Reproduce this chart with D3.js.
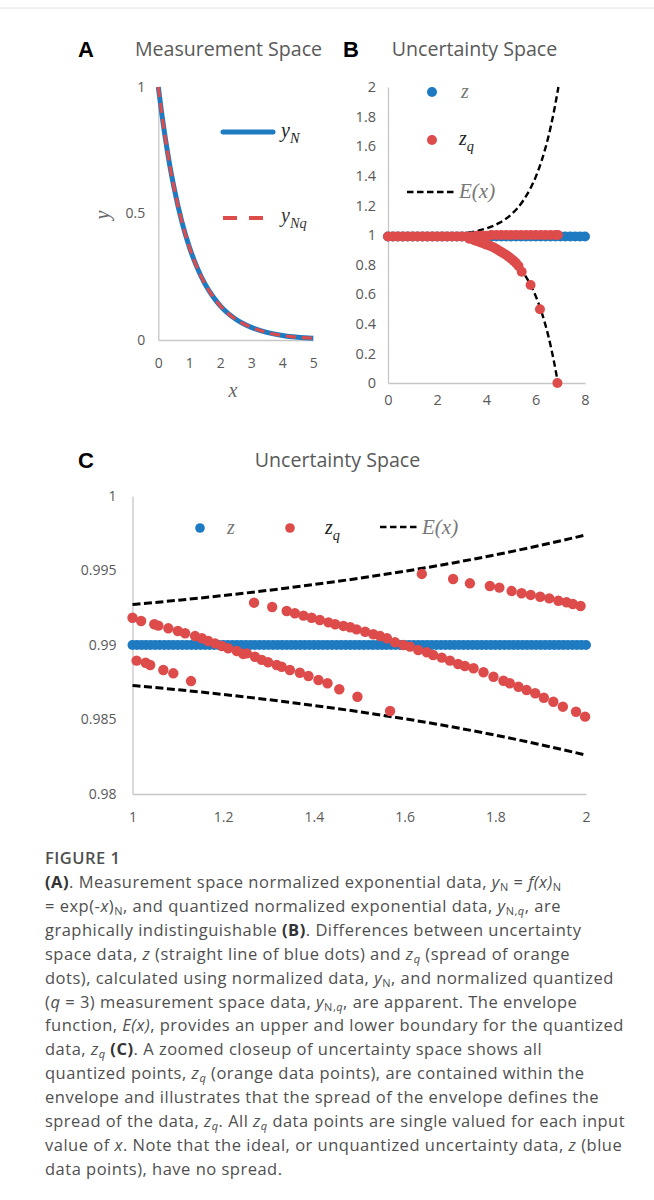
<!DOCTYPE html>
<html>
<head>
<meta charset="utf-8">
<script src="https://cdn.jsdelivr.net/npm/d3@7"></script>
<style>
  body { margin: 0; background: #fff; }
  svg { display: block; }
  .tick text { font-family: "Open Sans", sans-serif; fill: #595959; }
  .cap { font-family: "Open Sans", sans-serif; font-size: 16.5px; letter-spacing: 0.5px; fill: #4f4f4f; }
</style>
</head>
<body>
<div id="chart"></div>
<script>
// ---- Panel A: measurement space (y_N and y_Nq overlap) ----
const aX = [0, 0.1, 0.2, 0.3, 0.4, 0.5, 0.75, 1, 1.25, 1.5, 1.75, 2, 2.25, 2.5, 2.75, 3, 3.5, 4, 4.5, 5];
const aY = [1, 0.905, 0.819, 0.741, 0.670, 0.607, 0.472, 0.368, 0.287, 0.223, 0.174, 0.135, 0.105, 0.082, 0.064, 0.050, 0.030, 0.018, 0.011, 0.007];
const aXTicks = [0, 1, 2, 3, 4, 5];
const aYTicks = [0, 0.5, 1];

// ---- Panel B: uncertainty space, full range ----
const zLevel = 0.99;
const bZX = [0, 0.2, 0.4, 0.6, 0.8, 1, 1.2, 1.4, 1.6, 1.8, 2, 2.2, 2.4, 2.6, 2.8, 3, 3.2, 3.4, 3.6, 3.8, 4,
  4.2, 4.4, 4.6, 4.8, 5, 5.2, 5.4, 5.6, 5.8, 6, 6.2, 6.4, 6.6, 6.8, 7, 7.2, 7.4, 7.6, 7.8, 8];
const bZqX = [0, 0.2, 0.4, 0.6, 0.8, 1, 1.2, 1.4, 1.6, 1.8, 2, 2.2, 2.4, 2.6, 2.8, 3, 3.2, 3.4, 3.6, 3.8, 4,
  4.2, 4.4, 4.6, 4.8, 5, 5.2, 5.4, 5.6, 5.8, 6, 6.2, 6.4, 6.6, 6.8, 6.9,
  3.3, 3.5, 3.6, 3.7, 3.8, 3.9, 4, 4.1, 4.2, 4.3, 4.4, 4.5, 4.6, 4.7, 4.8, 4.9, 5, 5.1, 5.2, 5.3,
  5.43, 5.79, 6.17, 6.88];
const bZqY = [0.99, 0.99, 0.99, 0.99, 0.99, 0.99, 0.99, 0.99, 0.99, 0.99, 0.99, 0.99, 0.99, 0.99, 0.99, 0.99, 0.99, 0.99, 0.995, 0.995, 0.995,
  1.0, 1.0, 1.0, 1.0, 1.0, 1.0, 1.0, 1.0, 1.0, 1.0, 1.0, 1.0, 1.0, 1.0, 1.0,
  0.975, 0.965, 0.96, 0.955, 0.948, 0.942, 0.935, 0.93, 0.922, 0.915, 0.905, 0.895, 0.885, 0.875, 0.865, 0.853, 0.84, 0.826, 0.81, 0.79,
  0.752, 0.662, 0.498, 0.0];
const bEX = [0, 1, 2, 3, 3.5, 4, 4.5, 5, 5.5, 6, 6.25, 6.5, 6.75, 6.92];
const bEUp = [0.991, 0.9927, 0.9974, 1.010, 1.023, 1.045, 1.080, 1.138, 1.235, 1.393, 1.508, 1.655, 1.844, 2.0];
const bELowX = [0, 1, 2, 3, 3.5, 4, 4.5, 5, 5.5, 6, 6.25, 6.5, 6.75, 6.9];
const bELow = [0.989, 0.9873, 0.9826, 0.970, 0.957, 0.935, 0.900, 0.842, 0.745, 0.587, 0.472, 0.325, 0.136, 0.0];
const bXTicks = [0, 2, 4, 6, 8];
const bYTicks = [0, 0.2, 0.4, 0.6, 0.8, 1, 1.2, 1.4, 1.6, 1.8, 2];

// ---- Panel C: zoomed uncertainty space, x from 1 to 2 ----
const cZX = [1, 1.01, 1.02, 1.03, 1.04, 1.05, 1.06, 1.07, 1.08, 1.09, 1.1, 1.11, 1.12, 1.13, 1.14, 1.15, 1.16, 1.17, 1.18, 1.19,
  1.2, 1.21, 1.22, 1.23, 1.24, 1.25, 1.26, 1.27, 1.28, 1.29, 1.3, 1.31, 1.32, 1.33, 1.34, 1.35, 1.36, 1.37, 1.38, 1.39,
  1.4, 1.41, 1.42, 1.43, 1.44, 1.45, 1.46, 1.47, 1.48, 1.49, 1.5, 1.51, 1.52, 1.53, 1.54, 1.55, 1.56, 1.57, 1.58, 1.59,
  1.6, 1.61, 1.62, 1.63, 1.64, 1.65, 1.66, 1.67, 1.68, 1.69, 1.7, 1.71, 1.72, 1.73, 1.74, 1.75, 1.76, 1.77, 1.78, 1.79,
  1.8, 1.81, 1.82, 1.83, 1.84, 1.85, 1.86, 1.87, 1.88, 1.89, 1.9, 1.91, 1.92, 1.93, 1.94, 1.95, 1.96, 1.97, 1.98, 1.99, 2];
const cZqX = [1.0, 1.019, 1.048, 1.057, 1.079, 1.1, 1.116, 1.138, 1.153, 1.167, 1.182, 1.197, 1.211, 1.23, 1.244,
  1.252, 1.27, 1.285, 1.299, 1.318, 1.329, 1.347, 1.369, 1.388, 1.41, 1.43, 1.456, 1.496, 1.568,
  1.009, 1.029, 1.039, 1.068, 1.09, 1.129,
  1.268, 1.308, 1.34, 1.358, 1.377, 1.395, 1.413, 1.432, 1.447, 1.465, 1.48, 1.494,
  1.513, 1.531, 1.546, 1.561, 1.579, 1.597, 1.612, 1.63, 1.649, 1.663, 1.682, 1.7, 1.718, 1.733,
  1.752, 1.774, 1.796, 1.818, 1.832, 1.851, 1.869, 1.888, 1.907, 1.928, 1.949, 1.978, 1.998,
  1.638, 1.707, 1.744, 1.788, 1.809, 1.836, 1.858, 1.878, 1.899, 1.919, 1.939, 1.957, 1.971, 1.988];
const cZqY = [0.99183, 0.99161, 0.99139, 0.9913, 0.99112, 0.99094, 0.99079, 0.9906, 0.99045, 0.99027, 0.99011, 0.98993, 0.98978, 0.9896, 0.9894,
  0.98944, 0.98921, 0.989, 0.98884, 0.98866, 0.98854, 0.98832, 0.98814, 0.98792, 0.98765, 0.98743, 0.98703, 0.98653, 0.98557,
  0.98895, 0.98881, 0.98866, 0.98832, 0.9881, 0.98758,
  0.99284, 0.99255, 0.99228, 0.99213, 0.99197, 0.99183, 0.99168, 0.99152, 0.99139, 0.99128, 0.99119, 0.99105,
  0.99089, 0.99072, 0.9906, 0.99045, 0.99018, 0.99, 0.98989, 0.98966, 0.98951, 0.98933, 0.98915, 0.98895, 0.98872, 0.98859,
  0.98844, 0.98817, 0.98787, 0.9876, 0.98743, 0.9872, 0.98698, 0.98676, 0.98646, 0.98619, 0.98586, 0.98552, 0.98519,
  0.99477, 0.99443, 0.99414, 0.99396, 0.99385, 0.99362, 0.99347, 0.99336, 0.99324, 0.99313, 0.99297, 0.99287, 0.99275, 0.99262];
const cEX = [1, 1.1, 1.2, 1.3, 1.4, 1.5, 1.6, 1.7, 1.8, 1.9, 2];
const cEUp = [0.99272, 0.993, 0.99332, 0.99367, 0.99406, 0.99448, 0.99495, 0.99547, 0.99605, 0.99669, 0.99739];
const cELow = [0.98728, 0.987, 0.98668, 0.98633, 0.98594, 0.98552, 0.98505, 0.98453, 0.98395, 0.98331, 0.98261];
const cXTicks = [1, 1.2, 1.4, 1.6, 1.8, 2];
const cYTicks = [0.98, 0.985, 0.99, 0.995, 1];

const BLUE = "#1f7bc1", RED = "#dd4b4b", AXIS = "#c6c6c6", GRAY = "#595959";
const SERIF = "'Liberation Serif', 'DejaVu Serif', serif";

const svg = d3.select("#chart").append("svg").attr("width", 654).attr("height", 1200);

svg.append("line").attr("x1", 0).attr("x2", 654).attr("y1", 8).attr("y2", 8)
  .attr("stroke", "#e2e2e2").attr("stroke-width", 1);

// axis helper
function axes(x, y, xt, yt, padX, padY, size) {
  const fmt = d => String(+d.toFixed(3));
  const gx = svg.append("g").attr("transform", `translate(0,${y.range()[0]})`)
    .call(d3.axisBottom(x).tickValues(xt).tickSize(0).tickSizeOuter(0).tickPadding(padX).tickFormat(fmt));
  const gy = svg.append("g").attr("transform", `translate(${x.range()[0]},0)`)
    .call(d3.axisLeft(y).tickValues(yt).tickSize(0).tickSizeOuter(0).tickPadding(padY).tickFormat(fmt));
  [gx, gy].forEach(g => {
    g.select(".domain").attr("stroke", AXIS).attr("stroke-width", 1.3);
    g.selectAll("text").attr("font-size", size);
  });
}

function title(txt, cx, cy, letter, lx) {
  svg.append("text").attr("x", cx).attr("y", cy).attr("text-anchor", "middle")
    .attr("font-family", "'Open Sans', sans-serif").attr("font-size", 19.6).attr("fill", GRAY).text(txt);
  svg.append("text").attr("x", lx).attr("y", cy + 0.5)
    .attr("font-family", "'Liberation Sans', Arial, sans-serif").attr("font-weight", 700)
    .attr("font-size", 22).attr("fill", "#000").text(letter);
}

function legendLabel(x, y, main, sub, color, size) {
  const t = svg.append("text").attr("x", x).attr("y", y).attr("font-family", SERIF)
    .attr("font-style", "italic").attr("font-size", size || 20).attr("fill", color || "#333");
  t.append("tspan").text(main);
  if (sub) t.append("tspan").attr("dy", 6).attr("font-size", (size || 20) * 0.72).text(sub);
  return t;
}

// ================= Panel A =================
const xA = d3.scaleLinear().domain([0, 5]).range([158.3, 313.3]);
const yA = d3.scaleLinear().domain([0, 1]).range([340, 87]);
axes(xA, yA, aXTicks, aYTicks, 18, 13, 14);
title("Measurement Space", 228.5, 56, "A", 78);

const lineA = d3.line().x((d, i) => xA(aX[i])).y(d => yA(d)).curve(d3.curveMonotoneX);
svg.append("path").datum(aY).attr("d", lineA).attr("fill", "none")
  .attr("stroke", BLUE).attr("stroke-width", 5);
svg.append("path").datum(aY).attr("d", lineA).attr("fill", "none")
  .attr("stroke", RED).attr("stroke-width", 3.2).attr("stroke-dasharray", "10,6");

svg.append("line").attr("x1", 223).attr("x2", 273).attr("y1", 132).attr("y2", 132)
  .attr("stroke", BLUE).attr("stroke-width", 5).attr("stroke-linecap", "round");
legendLabel(281, 137, "y", "N", "#222");
svg.append("line").attr("x1", 223).attr("x2", 273).attr("y1", 218).attr("y2", 218)
  .attr("stroke", RED).attr("stroke-width", 4).attr("stroke-dasharray", "14,12");
legendLabel(281, 222, "y", "Nq", "#333");

svg.append("text").attr("transform", "translate(109,215) rotate(-90)").attr("text-anchor", "middle")
  .attr("font-family", SERIF).attr("font-style", "italic").attr("font-size", 20).attr("fill", "#666").text("y");
svg.append("text").attr("x", 233).attr("y", 397).attr("text-anchor", "middle")
  .attr("font-family", SERIF).attr("font-style", "italic").attr("font-size", 20).attr("fill", "#666").text("x");

// ================= Panel B =================
const xB = d3.scaleLinear().domain([0, 8]).range([388, 585]);
const yB = d3.scaleLinear().domain([0, 2]).range([383, 87]);
axes(xB, yB, bXTicks, bYTicks, 12, 12, 14.5);
title("Uncertainty Space", 474.5, 56, "B", 343);

const dashB = "6.5,3.5";
svg.append("path").datum(bEUp).attr("fill", "none").attr("stroke", "#000").attr("stroke-width", 2.4)
  .attr("stroke-dasharray", dashB)
  .attr("d", d3.line().x((d, i) => xB(bEX[i])).y(d => yB(d)).curve(d3.curveMonotoneX));
svg.append("path").datum(bELow).attr("fill", "none").attr("stroke", "#000").attr("stroke-width", 2.4)
  .attr("stroke-dasharray", dashB)
  .attr("d", d3.line().x((d, i) => xB(bELowX[i])).y(d => yB(d)).curve(d3.curveMonotoneX));
svg.append("g").selectAll("circle").data(bZX).join("circle")
  .attr("cx", d => xB(d)).attr("cy", yB(zLevel)).attr("r", 5).attr("fill", BLUE);
svg.append("g").selectAll("circle").data(bZqY).join("circle")
  .attr("cx", (d, i) => xB(bZqX[i])).attr("cy", d => yB(d)).attr("r", 5).attr("fill", RED);

svg.append("circle").attr("cx", 432).attr("cy", 92).attr("r", 5).attr("fill", BLUE);
legendLabel(461, 98, "z", null, "#777");
svg.append("circle").attr("cx", 432).attr("cy", 140).attr("r", 5).attr("fill", RED);
legendLabel(459, 145, "z", "q", "#222");
svg.append("line").attr("x1", 407).attr("x2", 457).attr("y1", 192).attr("y2", 192)
  .attr("stroke", "#000").attr("stroke-width", 2.4).attr("stroke-dasharray", dashB);
legendLabel(459, 198, "E(x)", null, "#777", 21);

// ================= Panel C =================
const xC = d3.scaleLinear().domain([1, 2]).range([132.5, 586]);
const yC = d3.scaleLinear().domain([0.98, 1]).range([794, 496]);
axes(xC, yC, cXTicks, cYTicks, 18, 16, 14);
title("Uncertainty Space", 337.5, 467, "C", 78);

const dashC = "8,3.5";
[cEUp, cELow].forEach(arr => {
  svg.append("path").datum(arr).attr("fill", "none").attr("stroke", "#000").attr("stroke-width", 3)
    .attr("stroke-dasharray", dashC)
    .attr("d", d3.line().x((d, i) => xC(cEX[i])).y(d => yC(d)).curve(d3.curveMonotoneX));
});
svg.append("g").selectAll("circle").data(cZX).join("circle")
  .attr("cx", d => xC(d)).attr("cy", yC(zLevel)).attr("r", 5).attr("fill", BLUE);
svg.append("g").selectAll("circle").data(cZqY).join("circle")
  .attr("cx", (d, i) => xC(cZqX[i])).attr("cy", d => yC(d)).attr("r", 5.2).attr("fill", RED);

svg.append("circle").attr("cx", 200).attr("cy", 528).attr("r", 4.8).attr("fill", BLUE);
legendLabel(227, 534, "z", null, "#777");
svg.append("circle").attr("cx", 290).attr("cy", 528).attr("r", 4.8).attr("fill", RED);
legendLabel(325, 534, "z", "q", "#222");
svg.append("line").attr("x1", 380).attr("x2", 418).attr("y1", 527).attr("y2", 527)
  .attr("stroke", "#000").attr("stroke-width", 2.6).attr("stroke-dasharray", dashB);
legendLabel(422, 534, "E(x)", null, "#777", 21);

// ================= Caption =================
svg.append("text").attr("class", "cap").attr("x", 45).attr("y", 864)
  .attr("font-weight", 600).attr("fill", "#555").text("FIGURE 1");

const capLines = [
  [["(A)", "b"], [". Measurement space normalized exponential data, "], ["y", "i"], ["N", "sub"], [" = "], ["f(x)", "i"], ["N", "sub"]],
  [["= exp(-"], ["x", "i"], [")"], ["N", "sub"], [", and quantized normalized exponential data, "], ["y", "i"], ["N,", "sub"], ["q", "isub"], [", are"]],
  [["graphically indistinguishable "], ["(B)", "b"], [". Differences between uncertainty"]],
  [["space data, "], ["z", "i"], [" (straight line of blue dots) and "], ["z", "i"], ["q", "isub"], [" (spread of orange"]],
  [["dots), calculated using normalized data, "], ["y", "i"], ["N", "sub"], [", and normalized quantized"]],
  [["("], ["q", "i"], [" = 3) measurement space data, "], ["y", "i"], ["N,", "sub"], ["q", "isub"], [", are apparent. The envelope"]],
  [["function, "], ["E(x)", "i"], [", provides an upper and lower boundary for the quantized"]],
  [["data, "], ["z", "i"], ["q", "isub"], [" "], ["(C)", "b"], [". A zoomed closeup of uncertainty space shows all"]],
  [["quantized points, "], ["z", "i"], ["q", "isub"], [" (orange data points), are contained within the"]],
  [["envelope and illustrates that the spread of the envelope defines the"]],
  [["spread of the data, "], ["z", "i"], ["q", "isub"], [". All "], ["z", "i"], ["q", "isub"], [" data points are single valued for each input"]],
  [["value of "], ["x", "i"], [". Note that the ideal, or unquantized uncertainty data, "], ["z", "i"], [" (blue"]],
  [["data points), have no spread."]]
];

const capMax = 580;
capLines.forEach((segs, k) => {
  const t = svg.append("text").attr("class", "cap").attr("x", 45).attr("y", 888 + k * 23.9);
  let shift = 0;
  segs.forEach(([s, st]) => {
    const sub = st === "sub" || st === "isub";
    const target = sub ? 3 : 0;
    const ts = t.append("tspan").attr("dy", target - shift).text(s);
    shift = target;
    if (st === "i" || st === "isub") ts.attr("font-style", "italic");
    if (st === "b") ts.attr("font-weight", 700).attr("fill", "#333");
    if (sub) ts.attr("font-size", 11);
  });
  // squeeze lines that run past the right margin, as in the typeset caption
  if (t.node().getComputedTextLength() > capMax) {
    t.attr("textLength", capMax).attr("lengthAdjust", "spacingAndGlyphs");
  }
});
</script>
</body>
</html>
